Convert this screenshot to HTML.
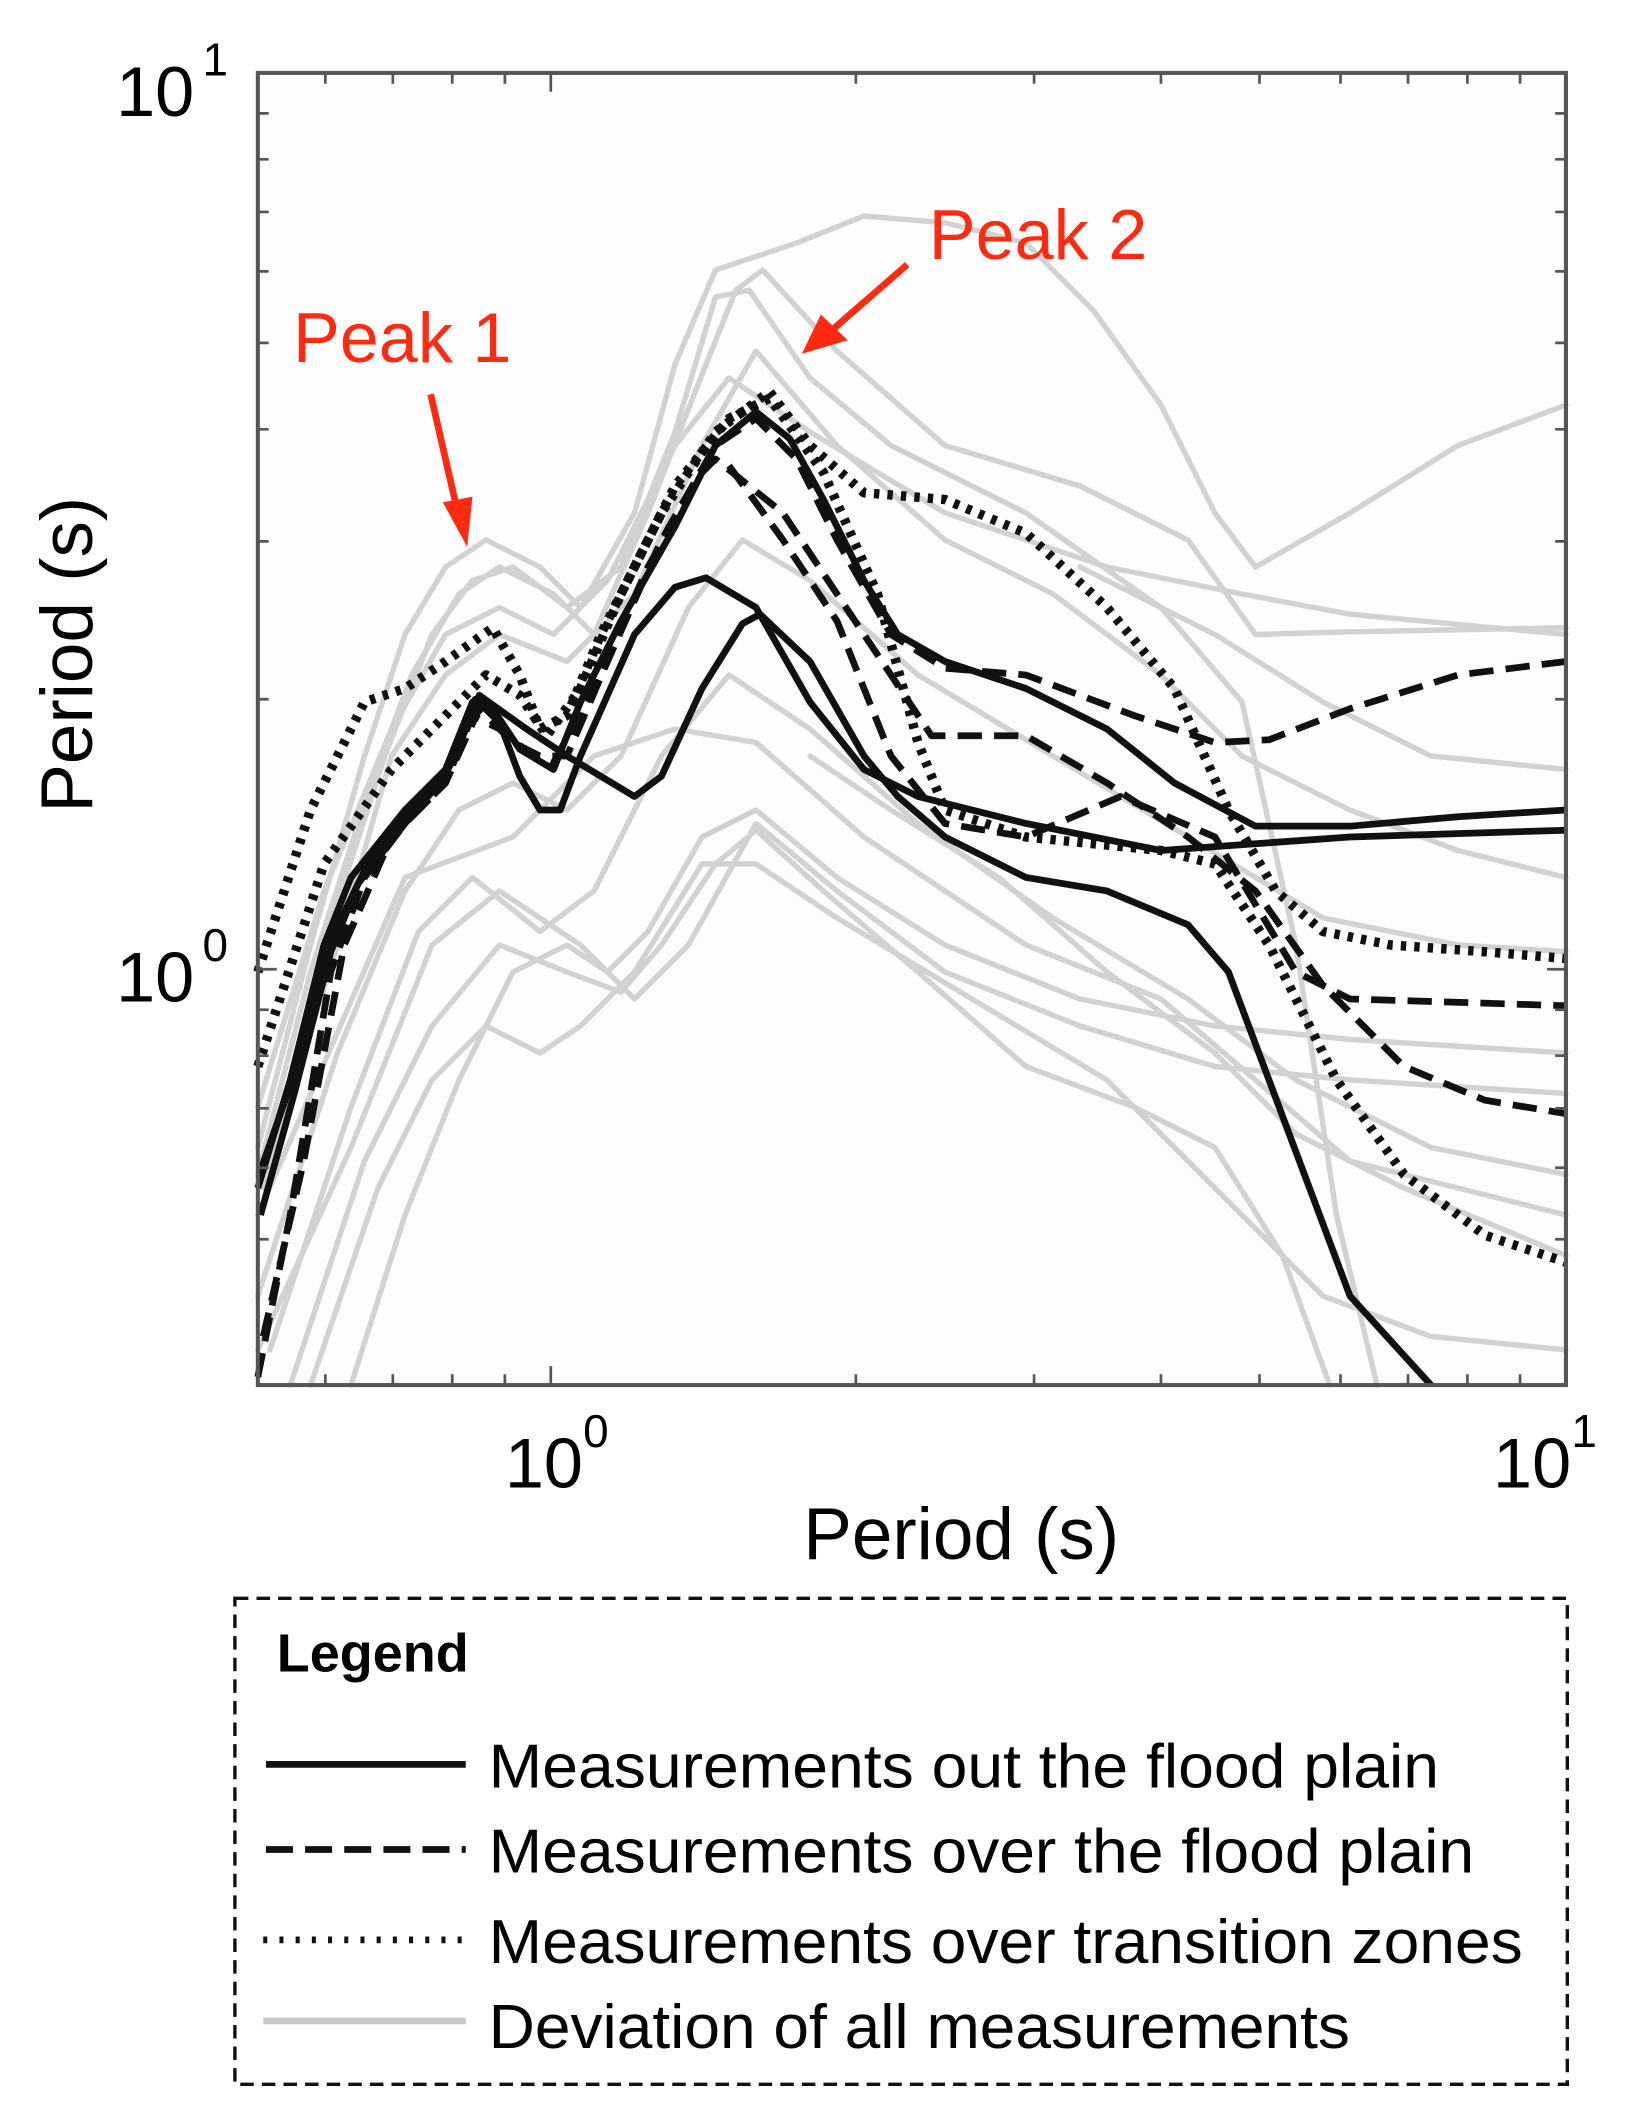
<!DOCTYPE html>
<html><head><meta charset="utf-8"><style>
html,body{margin:0;padding:0;background:#fff}
svg{display:block}
text{font-family:"Liberation Sans",Arial,sans-serif}
</style></head><body>
<svg width="1629" height="2115" viewBox="0 0 1206.7 1566.7" xmlns="http://www.w3.org/2000/svg">
<rect width="1206.7" height="1566.7" fill="#fff"/>
<rect x="191" y="54" width="969" height="972" fill="#fdfdfd"/>
<!-- grey curves -->
<g fill="none" stroke="#d2d2d2" stroke-width="4" stroke-linejoin="round" stroke-linecap="round">
<polyline points="191,850 230,700 270,560 300,470 330,420 360,400 400,420 430,450 470,380 500,270 530,200 560,190 590,180 640,160 700,165 760,180 810,230 860,300 900,380 930,420 1000,380 1080,330 1160,300"/>
<polyline points="191,870 230,720 275,580 305,500 340,440 370,420 410,440 440,470 480,380 515,290 545,215 565,200 620,260 700,330 800,360 880,400 930,470 1000,468 1160,465"/>
<polyline points="195,880 240,700 285,560 320,470 350,430 380,420 420,450 460,420 500,320 530,220 555,215 600,280 660,330 760,380 860,450 920,520 960,700 990,900 1020,1026"/>
<polyline points="200,860 250,700 290,560 330,500 370,470 420,490 470,440 520,330 560,260 620,330 700,400 780,440 860,500 920,560 1000,600 1080,630 1160,650"/>
<polyline points="191,1000 260,850 320,700 370,660 430,700 470,740 510,700 560,610 620,660 700,720 800,760 900,790 1000,800 1160,810"/>
<polyline points="215,1026 270,860 320,760 370,700 420,720 460,735 490,700 530,640 560,615 610,660 680,720 760,790 840,820 900,850 950,930 985,1026"/>
<polyline points="191,900 300,650 380,620 440,560 500,540 560,550 640,620 760,700 860,740 1000,860 1160,900"/>
<polyline points="200,1000 260,820 310,690 350,650 400,690 440,660 490,560 540,500 600,540 680,610 780,680 880,740 960,800 1060,850 1160,870"/>
<polyline points="230,1026 280,880 320,800 360,760 400,780 430,760 470,720 520,640 560,640 620,680 720,740 820,800 900,880 980,960 1060,990 1160,1000"/>
<polyline points="191,960 250,780 300,660 340,600 380,580 420,600 460,560 510,450 550,400 600,430 680,500 780,560 880,620 980,680 1080,700 1160,705"/>
<polyline points="191,820 240,660 290,540 330,470 370,450 410,470 450,430 500,330 540,280 600,320 700,380 820,420 920,440 1000,455 1160,470"/>
<polyline points="260,1026 300,900 340,800 380,720 420,700 450,720 480,690 520,620 560,600 620,650 700,700 800,740 900,760 1000,770 1160,780"/>
<polyline points="600,560 660,600 740,650 820,720 900,780 960,840 1040,880 1160,930"/>
<polyline points="800,420 900,470 980,520 1060,560 1160,570"/>
</g>
<!-- dotted -->
<g fill="none" stroke="#111" stroke-width="7" stroke-dasharray="4 6" stroke-linejoin="round">
<polyline points="191,720 230,600 270,520 300,510 330,490 365,465 385,500 400,540 420,530 445,470 490,380 530,320 570,290 600,330 640,365 700,370 760,395 820,450 870,510 910,600 945,660 980,690 1030,700 1100,705 1160,710"/>
<polyline points="191,790 240,640 290,570 330,530 360,500 385,515 405,545 430,510 460,440 500,360 540,310 570,295 610,350 650,440 680,550 700,600 760,620 860,630 900,640 940,700 970,760 990,800 1040,870 1100,915 1160,935"/>
</g>
<!-- dashed -->
<g fill="none" stroke="#111" stroke-width="5" stroke-dasharray="18 9" stroke-linejoin="round">
<polyline points="191,1020 215,900 245,720 270,650 300,610 330,580 350,530 370,540 395,560 420,560 450,490 490,400 530,330 560,310 590,340 620,400 660,470 700,495 760,500 840,530 900,550 940,548 1000,525 1080,500 1160,490"/>
<polyline points="195,990 225,860 255,700 290,620 330,580 355,525 380,550 410,565 440,510 480,420 520,350 530,340 580,380 640,470 690,545 760,545 820,580 880,620 930,660 980,730 1040,790 1100,815 1160,825"/>
<polyline points="540,345 580,400 620,460 660,560 700,610 760,620 830,590 900,620 960,720 1000,740 1160,745"/>
</g>
<!-- solid -->
<g fill="none" stroke="#111" stroke-width="5" stroke-linejoin="round">
<polyline points="191,880 215,800 240,700 260,650 300,600 330,570 350,520 365,525 385,555 410,570 430,520 460,460 500,390 530,330 560,305 585,325 610,370 640,430 665,470 700,490 760,510 820,540 870,580 930,612 1000,612 1080,605 1160,600"/>
<polyline points="193,900 218,810 245,705 265,655 300,610 330,575 352,518 370,535 385,575 400,600 415,600 430,560 470,470 500,435 523,428 560,450 600,520 640,570 680,590 760,610 860,630 1000,620 1160,615"/>
<polyline points="192,870 220,790 248,690 270,645 305,600 335,565 355,515 390,540 420,560 445,575 470,590 490,575 520,510 550,462 563,455 600,490 640,560 665,590 700,620 760,650 820,660 880,685 910,720 940,800 970,880 1000,960 1060,1026"/>
</g>
<!-- axes box & ticks -->
<rect x="191" y="54" width="969" height="972" fill="none" stroke="#555" stroke-width="3"/>
<g stroke="#555" stroke-width="2">
<path d="M241,1026v-8M291,1026v-8M335,1026v-8M374,1026v-8M408,1026v-14M634,1026v-8M766,1026v-8M860,1026v-8M933,1026v-8M993,1026v-8M1043,1026v-8M1087,1026v-8M1126,1026v-8"/>
<path d="M241,54v8M291,54v8M335,54v8M374,54v8M408,54v14M634,54v8M766,54v8M860,54v8M933,54v8M993,54v8M1043,54v8M1087,54v8M1126,54v8"/>
<path d="M191,918h8M191,865h8M191,821h8M191,782h8M191,748h8M191,718h14M191,518h8M191,401h8M191,318h8M191,254h8M191,201h8M191,157h8M191,118h8M191,84h8"/>
<path d="M1160,918h-8M1160,865h-8M1160,821h-8M1160,782h-8M1160,748h-8M1160,718h-14M1160,518h-8M1160,401h-8M1160,318h-8M1160,254h-8M1160,201h-8M1160,157h-8M1160,118h-8M1160,84h-8"/>
</g>
<!-- tick labels -->
<g fill="#000" font-size="52">
<text x="86" y="86">10</text><text x="150" y="56" font-size="34">1</text>
<text x="86" y="742">10</text><text x="150" y="712" font-size="34">0</text>
<text x="374" y="1102">10</text><text x="432" y="1072" font-size="34">0</text>
<text x="1106" y="1102">10</text><text x="1164" y="1072" font-size="34">1</text>
</g>
<text x="712" y="1155" font-size="54" text-anchor="middle" fill="#000">Period (s)</text>
<text transform="translate(68,485) rotate(-90)" font-size="54" text-anchor="middle" fill="#000">Period (s)</text>
<!-- peak annotations -->
<g fill="#ff2a10">
<text x="217" y="268" font-size="52">Peak 1</text>
<text x="688" y="192" font-size="52">Peak 2</text>
</g>
<g stroke="#ff2a10" stroke-width="5" fill="none">
<line x1="319" y1="292" x2="338" y2="375"/>
<line x1="672" y1="196" x2="618" y2="243"/>
</g>
<g fill="#ff2a10">
<polygon points="328,372 350,368 346,405"/>
<polygon points="608,233 628,252 594,262"/>
</g>
<!-- legend -->
<rect x="174" y="1184" width="987" height="360" fill="#fff" stroke="#111" stroke-width="2.5" stroke-dasharray="10 6"/>
<text x="205" y="1238" font-size="40" font-weight="bold" fill="#000">Legend</text>
<g stroke-width="5" fill="none">
<line x1="197" y1="1307" x2="345" y2="1307" stroke="#111"/>
<line x1="197" y1="1370" x2="345" y2="1370" stroke="#111" stroke-dasharray="20 9"/>
<line x1="195" y1="1437" x2="345" y2="1437" stroke="#111" stroke-dasharray="3 9"/>
<line x1="195" y1="1497" x2="345" y2="1497" stroke="#c8c8c8"/>
</g>
<g font-size="46" fill="#000">
<text x="362" y="1324" textLength="704" lengthAdjust="spacingAndGlyphs">Measurements out the flood plain</text>
<text x="362" y="1387" textLength="730" lengthAdjust="spacingAndGlyphs">Measurements over the flood plain</text>
<text x="362" y="1454" textLength="766" lengthAdjust="spacingAndGlyphs">Measurements over transition zones</text>
<text x="362" y="1517" textLength="638" lengthAdjust="spacingAndGlyphs">Deviation of all measurements</text>
</g>
</svg>
</body></html>
